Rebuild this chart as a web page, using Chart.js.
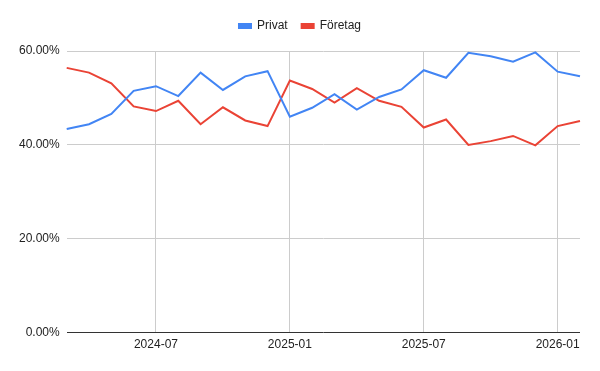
<!DOCTYPE html>
<html>
<head>
<meta charset="utf-8">
<script src="https://cdn.jsdelivr.net/npm/chart.js@4.4.1/dist/chart.umd.min.js"></script>
<style>
  html, body { margin: 0; padding: 0; background: #fff; }
  #wrap { width: 600px; height: 371px; position: relative; }
</style>
</head>
<body>
<div id="wrap"><canvas id="c" width="600" height="371"></canvas></div>
<script>
const months = ["2024-03","2024-04","2024-05","2024-06","2024-07","2024-08","2024-09","2024-10","2024-11","2024-12",
  "2025-01","2025-02","2025-03","2025-04","2025-05","2025-06","2025-07","2025-08","2025-09","2025-10","2025-11","2025-12",
  "2026-01","2026-02"];
const shownTicks = ["2024-07","2025-01","2025-07","2026-01"];
const privat = [43.4,44.4,46.6,51.5,52.5,50.4,55.4,51.7,54.6,55.7,46.0,47.9,50.8,47.5,50.2,51.8,55.9,54.3,59.6,58.9,57.7,59.7,55.6,54.6];
const foretag = [56.4,55.4,53.1,48.2,47.2,49.4,44.4,48.0,45.2,44.0,53.7,51.9,49.0,52.1,49.4,48.1,43.7,45.4,40.0,40.8,41.9,39.9,44.0,45.1];
const yTicks = [0,20,40,60];

Chart.defaults.font.family = "'Liberation Sans', Arial, sans-serif";
Chart.defaults.font.size = 12;
Chart.defaults.color = '#222';

const legendTweak = {
  id: 'legendTweak',
  beforeInit(chart) {
    const orig = chart.legend.fit;
    chart.legend.fit = function () { orig.bind(chart.legend)(); this.height += 9; };
  },
  afterLayout(chart) {
    chart.legend.left = 0;
    chart.legend.right = chart.width;
  }
};

new Chart(document.getElementById('c'), {
  type: 'line',
  data: {
    labels: months,
    datasets: [
      { label: 'Privat', data: privat, borderColor: '#4285F4', backgroundColor: '#4285F4', borderWidth: 2, pointRadius: 0, tension: 0 },
      { label: 'Företag', data: foretag, borderColor: '#EA4335', backgroundColor: '#EA4335', borderWidth: 2, pointRadius: 0, tension: 0 }
    ]
  },
  options: {
    responsive: false,
    animation: false,
    layout: { padding: { left: 12, right: 20, top: 6, bottom: 14 } },
    plugins: {
      legend: {
        position: 'top',
        align: 'center',
        labels: { boxWidth: 12, boxHeight: 4, padding: 14, color: '#222', font: { size: 12 } }
      },
      tooltip: { enabled: false }
    },
    scales: {
      x: {
        type: 'category',
        offset: false,
        grid: {
          drawTicks: false,
          color: ctx => (ctx.tick && shownTicks.includes(months[ctx.tick.value])) ? '#cccccc' : 'rgba(0,0,0,0)',
          lineWidth: 1
        },
        border: { display: false },
        ticks: {
          autoSkip: false,
          maxRotation: 0,
          padding: 5,
          color: '#222',
          callback: function (v, i) { return shownTicks.includes(months[i]) ? months[i] : ''; }
        }
      },
      y: {
        min: 0,
        max: 60,
        afterBuildTicks: axis => { axis.ticks = yTicks.map(v => ({ value: v })); },
        grid: {
          drawTicks: false,
          color: ctx => (ctx.tick && ctx.tick.value === 0) ? '#333333' : '#cccccc',
          lineWidth: 1
        },
        border: { display: false },
        ticks: {
          padding: 7,
          color: '#222',
          callback: v => v.toFixed(2) + '%'
        }
      }
    }
  },
  plugins: [legendTweak]
});
</script>
</body>
</html>
